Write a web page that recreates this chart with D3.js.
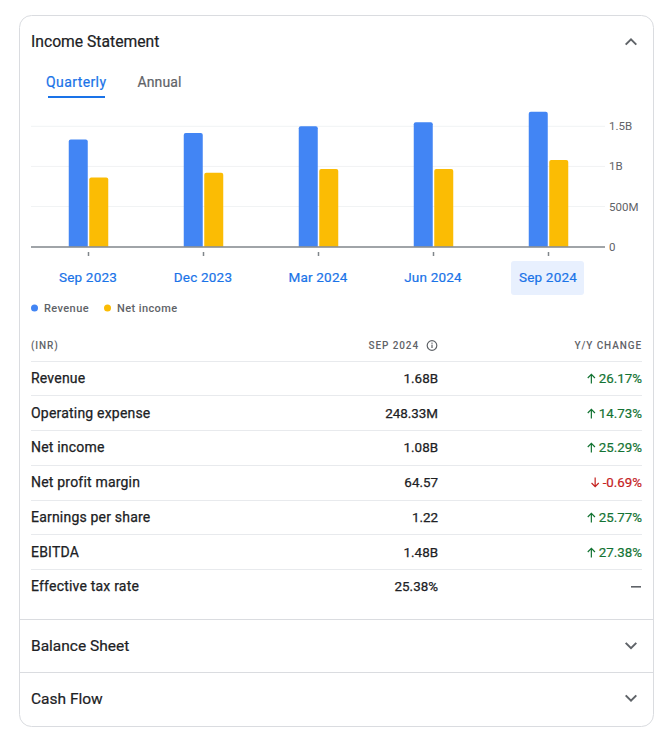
<!DOCTYPE html>
<html>
<head>
<meta charset="utf-8">
<script src="https://cdn.jsdelivr.net/npm/d3@7"></script>
<style>
  html, body { margin: 0; padding: 0; background: #fff; }
  svg { display: block; font-family: Roboto, sans-serif; }
</style>
</head>
<body>
<div id="chart"></div>
<script>
// --- chart data ---
const quarters = ["Sep 2023", "Dec 2023", "Mar 2024", "Jun 2024", "Sep 2024"];
const revenue = [1.335e9, 1.415e9, 1.5e9, 1.55e9, 1.68e9];
const netIncome = [0.862e9, 0.92e9, 0.967e9, 0.967e9, 1.08e9];
const yTicks = [0, 0.5e9, 1e9, 1.5e9];
const yTickLabels = ["0", "500M", "1B", "1.5B"];

// --- table data ---
const rowNames = ["Revenue", "Operating expense", "Net income", "Net profit margin", "Earnings per share", "EBITDA", "Effective tax rate"];
const rowValues = ["1.68B", "248.33M", "1.08B", "64.57", "1.22", "1.48B", "25.38%"];
const rowChanges = ["26.17%", "14.73%", "25.29%", "-0.69%", "25.77%", "27.38%", "—"];
const rowDirections = ["up", "up", "up", "down", "up", "up", "none"];

const BLUE = "#4285f4", YELLOW = "#fbbc04", LINK = "#1a73e8";
const DARK = "#202124", GREY = "#5f6368", RULE = "#e8eaed", BORDER = "#dadce0";

const svg = d3.select("#chart").append("svg").attr("width", 665).attr("height", 742);

function label(x, y, str, size, fill, opts = {}) {
  const t = svg.append("text")
    .attr("x", x).attr("y", y)
    .attr("font-size", size)
    .attr("fill", fill)
    .attr("font-weight", opts.weight || 400)
    .attr("text-anchor", opts.anchor || "start")
    .attr("letter-spacing", opts.spacing || 0)
    .text(str);
  // the original face sits between regular and medium
  if (opts.semi) t.attr("stroke", fill).attr("stroke-width", opts.semi);
  return t;
}

function chevron(cx, cy, up) {
  const d = up ? -1 : 1;
  svg.append("path")
    .attr("d", d3.line()([[cx - 5.3, cy - 2.6 * d], [cx, cy + 2.6 * d], [cx + 5.3, cy - 2.6 * d]]))
    .attr("fill", "none").attr("stroke", GREY).attr("stroke-width", 2);
}

// card
svg.append("rect").attr("x", 19.5).attr("y", 15.5).attr("width", 634).attr("height", 711)
  .attr("rx", 12).attr("fill", "#fff").attr("stroke", BORDER);

label(31, 47, "Income Statement", 15.7, DARK, { semi: 0.2 });
chevron(631, 42, true);

// tabs
label(46, 87, "Quarterly", 14, LINK, { spacing: 0.4, semi: 0.2 });
label(137.5, 87, "Annual", 14, GREY, { spacing: 0.1, semi: 0.2 });
svg.append("rect").attr("x", 48).attr("y", 96).attr("width", 57).attr("height", 2).attr("fill", LINK);

// scales
const x = d3.scaleBand().domain(quarters).range([31, 606]);
const y = d3.scaleLinear().domain([0, 1.5e9]).range([246.7, 126.3]);
const barW = 19, gap = 1.5;

// gridlines
svg.append("g").selectAll("line").data(yTicks.slice(1)).join("line")
  .attr("x1", 31).attr("x2", 605)
  .attr("y1", d => y(d)).attr("y2", d => y(d))
  .attr("stroke", "#f1f3f4");

// rounded on top only
function topRound(x0, y0, w, y1, r) {
  return `M${x0},${y1}V${y0 + r}Q${x0},${y0} ${x0 + r},${y0}H${x0 + w - r}Q${x0 + w},${y0} ${x0 + w},${y0 + r}V${y1}Z`;
}

const center = d => x(d) + x.bandwidth() / 2;
svg.append("g").selectAll("path").data(quarters).join("path")
  .attr("d", (d, i) => topRound(center(d) - gap / 2 - barW, y(revenue[i]), barW, y(0), 2))
  .attr("fill", BLUE);
svg.append("g").selectAll("path").data(quarters).join("path")
  .attr("d", (d, i) => topRound(center(d) + gap / 2, y(netIncome[i]), barW, y(0), 2))
  .attr("fill", YELLOW);

// baseline and ticks
svg.append("line").attr("x1", 31).attr("x2", 605).attr("y1", 247).attr("y2", 247)
  .attr("stroke", "#80868b").attr("stroke-width", 1.5);
svg.append("g").selectAll("line").data(quarters).join("line")
  .attr("x1", center).attr("x2", center).attr("y1", 252).attr("y2", 256)
  .attr("stroke", "#80868b").attr("stroke-width", 1.5);

// y labels
yTicks.forEach((t, i) => {
  label(609, y(t) + 4, yTickLabels[i], 11.5, GREY);
});

// selected quarter highlight
svg.append("rect").attr("x", 511).attr("y", 261).attr("width", 73).attr("height", 34)
  .attr("rx", 3).attr("fill", "#e8f0fe");
quarters.forEach(q => {
  label(center(q) - 0.5, 282, q, 13.5, LINK, { anchor: "middle", spacing: 0.2, semi: 0.2 });
});

// legend
svg.append("circle").attr("cx", 34.5).attr("cy", 308).attr("r", 3.5).attr("fill", BLUE);
label(44, 312, "Revenue", 11, GREY, { weight: 500, spacing: 0.4 });
svg.append("circle").attr("cx", 107.5).attr("cy", 308).attr("r", 3.5).attr("fill", YELLOW);
label(117, 312, "Net income", 11, GREY, { weight: 500, spacing: 0.4 });

// table header
label(31, 349, "(INR)", 10, GREY, { weight: 500, spacing: 0.9 });
label(419, 349, "SEP 2024", 10, GREY, { weight: 500, spacing: 0.9, anchor: "end" });
svg.append("circle").attr("cx", 432).attr("cy", 345.5).attr("r", 4.8)
  .attr("fill", "none").attr("stroke", GREY).attr("stroke-width", 1.2);
svg.append("rect").attr("x", 431.4).attr("y", 344.6).attr("width", 1.2).attr("height", 3.4).attr("fill", GREY);
svg.append("rect").attr("x", 431.4).attr("y", 342.6).attr("width", 1.2).attr("height", 1.2).attr("fill", GREY);
label(642, 349, "Y/Y CHANGE", 10, GREY, { weight: 500, spacing: 0.9, anchor: "end" });

// table rows
const ruleY = [361.5, 395.5, 430.5, 465.5, 500.5, 534.5, 569.5];
const textY = [383, 418, 452, 487, 522, 557, 591];
ruleY.forEach(r => {
  svg.append("line").attr("x1", 31).attr("x2", 642).attr("y1", r).attr("y2", r).attr("stroke", RULE);
});
rowNames.forEach((name, i) => {
  label(31, textY[i], name, 14, DARK, { spacing: 0.2, semi: 0.25 });
  label(438, textY[i], rowValues[i], 13.4, DARK, { anchor: "end", semi: 0.25 });
  const dir = rowDirections[i];
  if (dir === "none") {
    svg.append("rect").attr("x", 631).attr("y", textY[i] - 5).attr("width", 10).attr("height", 1.6).attr("fill", GREY);
    return;
  }
  const color = dir === "up" ? "#137333" : "#c5221f";
  const t = label(642, textY[i], rowChanges[i], 13.3, color, { anchor: "end", semi: 0.2 });
  const ax = 642 - t.node().getComputedTextLength() - 7.5;
  const cy = textY[i] - 4.5, s = dir === "up" ? 1 : -1;
  svg.append("path")
    .attr("d", `M${ax},${cy + 5 * s}V${cy - 4 * s}M${ax - 3.6},${cy - 0.5 * s}L${ax},${cy - 4.2 * s}L${ax + 3.6},${cy - 0.5 * s}`)
    .attr("fill", "none").attr("stroke", color).attr("stroke-width", 1.2);
});

// collapsed sections
[619.5, 672.5].forEach(r => {
  svg.append("line").attr("x1", 20).attr("x2", 653).attr("y1", r).attr("y2", r).attr("stroke", BORDER);
});
label(31, 651, "Balance Sheet", 15.5, DARK, { semi: 0.2 });
chevron(631, 645.5, false);
label(31, 704, "Cash Flow", 15.5, DARK, { semi: 0.2 });
chevron(631, 698, false);
</script>
</body>
</html>
